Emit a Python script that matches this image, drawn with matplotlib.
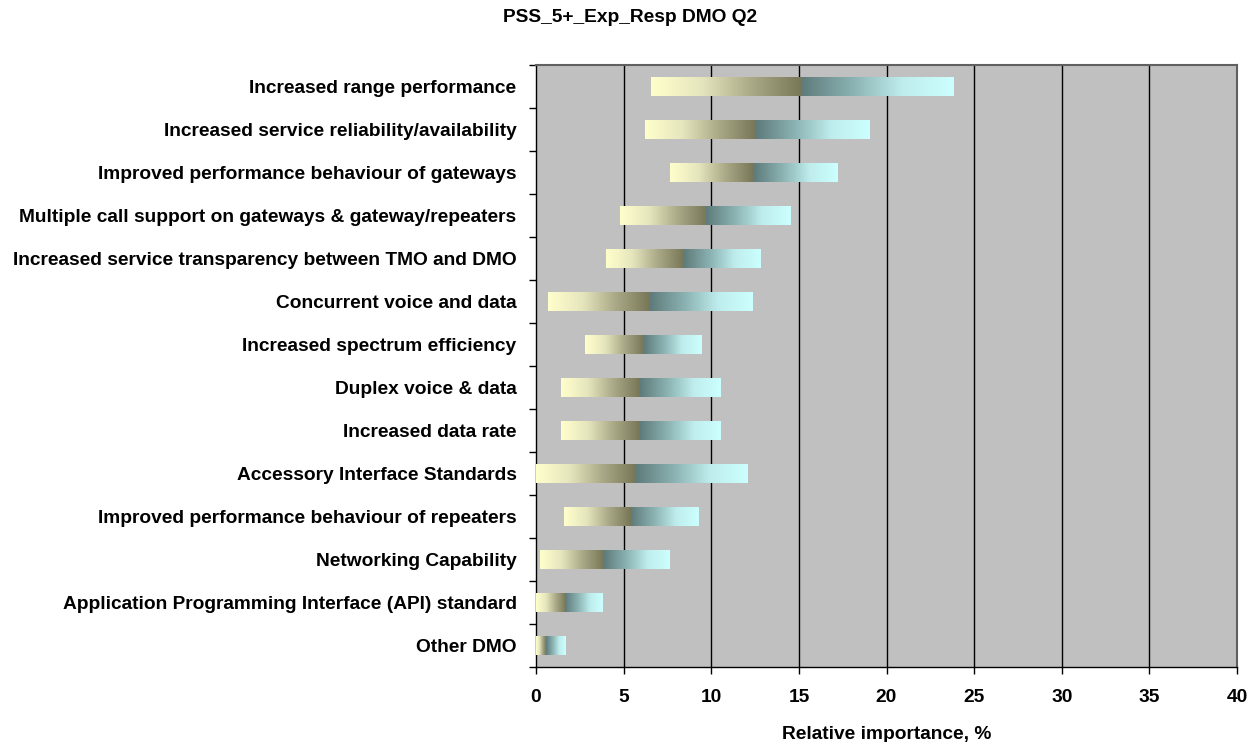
import matplotlib.pyplot as plt
import numpy as np
from matplotlib.colors import LinearSegmentedColormap

plt.rcParams['font.family'] = ['Liberation Sans', 'DejaVu Sans']
plt.rcParams['font.weight'] = 'bold'

# 数据
categories = [
    'Increased range performance',
    'Increased service reliability/availability',
    'Improved performance behaviour of gateways',
    'Multiple call support on gateways & gateway/repeaters',
    'Increased service transparency between TMO and DMO',
    'Concurrent voice and data',
    'Increased spectrum efficiency',
    'Duplex voice & data',
    'Increased data rate',
    'Accessory Interface Standards',
    'Improved performance behaviour of repeaters',
    'Networking Capability',
    'Application Programming Interface (API) standard',
    'Other DMO',
]
low = [6.56, 6.22, 7.65, 4.79, 4.0, 0.68, 2.8, 1.43, 1.43, 0.0, 1.6, 0.23, 0.0, 0.0]
mid = [15.12, 12.53, 12.44, 9.7, 8.45, 6.5, 6.16, 5.93, 5.93, 5.7, 5.42, 3.86, 1.67, 0.57]
high = [23.8, 19.0, 17.23, 14.55, 12.84, 12.33, 9.42, 10.5, 10.5, 12.04, 9.3, 7.59, 3.82, 1.71]

cm_left = LinearSegmentedColormap.from_list('l', ['#FFFFCC', '#E6E6BE', '#A9A987', '#777757'])
cm_right = LinearSegmentedColormap.from_list('r', ['#5F7B7B', '#8AB1B1', '#BFEDED', '#CCFFFF'])
grad = np.linspace(0, 1, 256).reshape(1, -1)

fs = 13.8

fig = plt.figure(figsize=(12.5, 7.42), dpi=100)
ax = fig.add_axes([0.4288, 0.1011, 0.5608, 0.8113])
ax.set_facecolor('#C0C0C0')

n = len(categories)
h = 0.44
for i in range(n):
    y = n - 1 - i
    ax.imshow(grad, cmap=cm_left, aspect='auto', interpolation='bicubic',
              extent=[low[i], mid[i], y - h / 2, y + h / 2], zorder=3)
    ax.imshow(grad, cmap=cm_right, aspect='auto', interpolation='bicubic',
              extent=[mid[i], high[i], y - h / 2, y + h / 2], zorder=3)

ax.set_xlim(0, 40)
ax.set_ylim(-0.5, n - 0.5)
ax.set_xticks(np.arange(0, 41, 5))
ax.set_xticklabels([str(v) for v in range(0, 41, 5)], fontsize=fs, fontweight='bold')
ax.set_yticks(np.arange(n))
ax.set_yticklabels(categories[::-1], fontsize=fs, fontweight='bold')
ax.set_yticks(np.arange(n + 1) - 0.5, minor=True)
ax.tick_params(axis='y', which='major', length=0, pad=14)
ax.tick_params(axis='y', which='minor', length=5, width=1, direction='out')
ax.tick_params(axis='x', length=5, width=1, direction='out', pad=11)
for v in range(5, 40, 5):
    ax.axvline(v, color='black', lw=1, zorder=1)
for s in ax.spines.values():
    s.set_color('#606060')
    s.set_linewidth(1.5)
ax.spines['left'].set_color('black')
ax.spines['bottom'].set_color('black')
ax.spines['left'].set_linewidth(1)
ax.spines['bottom'].set_linewidth(1)

ax.set_xlabel('Relative importance, %', fontsize=fs, fontweight='bold', labelpad=14)
fig.text(0.504, 0.977, 'PSS_5+_Exp_Resp DMO Q2', fontsize=fs, fontweight='bold',
         ha='center', va='center')

fig.savefig('out.png')
